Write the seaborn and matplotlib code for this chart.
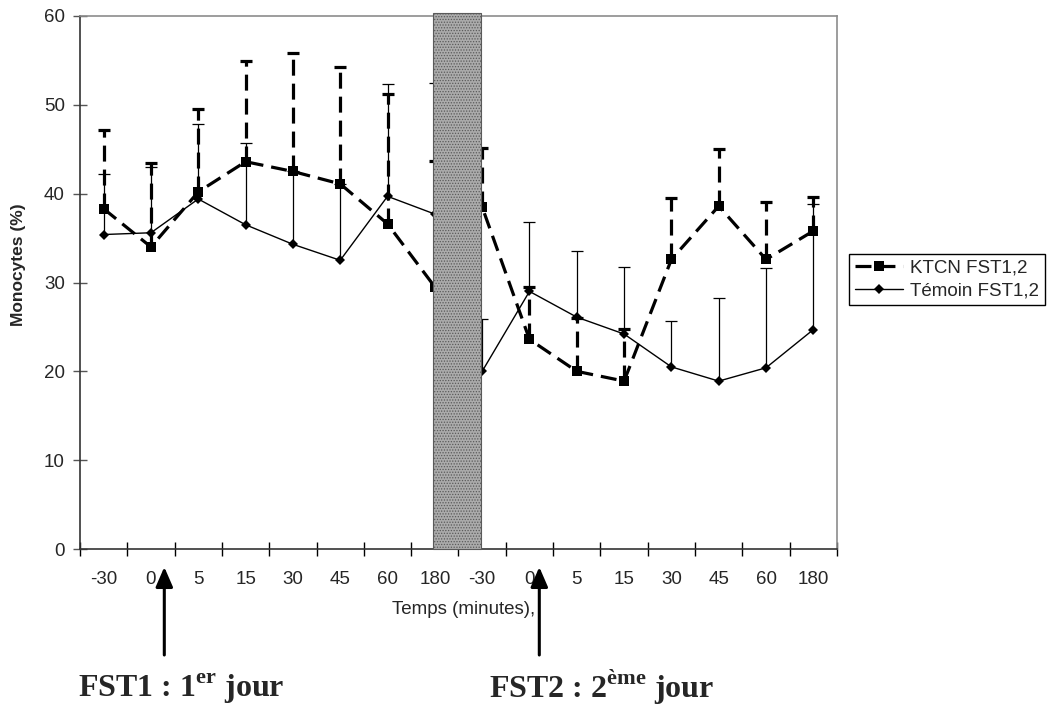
import numpy as np
import pandas as pd
import seaborn as sns
import matplotlib.pyplot as plt
from matplotlib.patches import Rectangle
from matplotlib.lines import Line2D

# time points of the two test days (FST1 then FST2)
labels = ['-30', '0', '5', '15', '30', '45', '60', '180',
          '-30', '0', '5', '15', '30', '45', '60', '180']
ktcn = [38.3, 34.0, 40.2, 43.6, 42.5, 41.1, 36.6, 29.5,
        38.5, 23.6, 20.0, 18.9, 32.6, 38.6, 32.6, 35.8]
ktcn_err = [8.9, 9.5, 9.3, 11.3, 13.3, 13.2, 14.6, 14.2,
            6.6, 5.9, 6.0, 5.9, 6.9, 6.4, 6.5, 3.8]
temoin = [35.4, 35.6, 39.4, 36.5, 34.3, 32.5, 39.7, 37.7,
          20.0, 29.0, 26.1, 24.2, 20.5, 18.9, 20.4, 24.7]
temoin_err = [6.8, 7.4, 8.4, 9.2, 8.2, 8.6, 12.6, 14.8,
              5.9, 7.8, 7.4, 7.5, 5.2, 9.4, 11.2, 14.1]

sns.set_style('ticks')
plt.rcParams['font.family'] = ['Liberation Sans', 'DejaVu Sans']
plt.rcParams['mathtext.fontset'] = 'custom'
plt.rcParams['mathtext.rm'] = 'Liberation Serif:bold'
plt.rcParams['mathtext.bf'] = 'Liberation Serif:bold'
plt.rcParams['hatch.linewidth'] = 0.6

pos = np.arange(len(labels))
df = pd.DataFrame({'pos': pos, 'ktcn': ktcn, 'temoin': temoin})

fig = plt.figure(figsize=(10.57, 7.04), dpi=100)
ax = fig.add_axes([80 / 1057, 1 - 549 / 704, 757 / 1057, 533 / 704])

dash = (5, 2.5)
sns.lineplot(data=df, x='pos', y='ktcn', ax=ax, color='black', lw=2.3,
             marker='s', markersize=7.5, markeredgewidth=0, sort=False,
             dashes=False, zorder=3)
ax.lines[-1].set_dashes(dash)
sns.lineplot(data=df, x='pos', y='temoin', ax=ax, color='black', lw=1,
             marker='D', markersize=5, markeredgewidth=0, sort=False, zorder=3)

# upper error bars only
eb = ax.errorbar(pos, ktcn, yerr=[np.zeros(len(pos)), ktcn_err], fmt='none',
                 ecolor='black', elinewidth=2.3, capsize=4, capthick=2.3, zorder=2)
eb[2][0].set_linestyle((0, dash))
eb[1][0].set_visible(False)
eb2 = ax.errorbar(pos, temoin, yerr=[np.zeros(len(pos)), temoin_err], fmt='none',
                  ecolor='black', elinewidth=0.9, capsize=4, capthick=0.9, zorder=2)
eb2[1][0].set_visible(False)

# grey band between the two days
ax.add_patch(Rectangle((6.96, 0), 1.01, 60.35, facecolor='#ababab',
                       edgecolor='#5a5a5a', hatch='......', lw=0.8,
                       zorder=5, clip_on=False))

ax.set_xlim(-0.5, 15.5)
ax.set_ylim(0, 60)
ax.set_yticks(range(0, 61, 10))
ax.set_xticks(pos)
ax.set_xticklabels(labels)
ax.set_xticks(np.arange(-0.5, 16, 1), minor=True)
ax.tick_params(axis='x', which='major', length=0, pad=16, labelsize=13.5)
ax.tick_params(axis='x', which='minor', direction='inout', length=10, width=1,
               color='black')
ax.tick_params(axis='y', direction='inout', length=10, width=1, color='#555555',
               pad=6, labelsize=13.5)

for side in ['top', 'right']:
    ax.spines[side].set_color('#8c8c8c')
    ax.spines[side].set_linewidth(1.2)
for side in ['left', 'bottom']:
    ax.spines[side].set_color('#333333')
    ax.spines[side].set_linewidth(1.2)

ax.set_xlabel('Temps (minutes),', fontsize=13.5)
ax.xaxis.set_label_coords((464 - 80) / 757, (549 - 601) / 533)
ax.set_ylabel('Monocytes (%)', fontsize=12.5, fontweight='bold')
ax.yaxis.set_label_coords((26 - 80) / 757, (549 - 265) / 533)

handles = [
    Line2D([], [], color='black', lw=2.3, dashes=dash, marker='s',
           markersize=7.5, markeredgewidth=0),
    Line2D([], [], color='black', lw=1, marker='D', markersize=5,
           markeredgewidth=0),
]
leg = fig.legend(handles, ['KTCN FST1,2', 'Témoin FST1,2'], loc='upper left',
                 bbox_to_anchor=(849 / 1057, 1 - 254 / 704), fontsize=13.5,
                 frameon=True, fancybox=False, edgecolor='black',
                 handlelength=2.6, handletextpad=0.35, borderpad=0.3,
                 labelspacing=0.3, borderaxespad=0)
leg.get_frame().set_linewidth(1)
leg.get_frame().set_alpha(1)

# arrows marking the two tests
for x in [164.3, 539.3]:
    ax.annotate('', xy=(x, 704 - 567), xytext=(x, 704 - 655),
                xycoords='figure pixels', textcoords='figure pixels',
                annotation_clip=False,
                arrowprops=dict(arrowstyle='-|>,head_length=0.6,head_width=0.26',
                                mutation_scale=20, color='black', lw=2.2,
                                shrinkA=0, shrinkB=0))

fig.text(78 / 1057, 1 - 697 / 704, r'FST1 : 1$^{\mathrm{er}}$ jour',
         family='Liberation Serif', fontweight='bold', fontsize=23,
         va='baseline')
fig.text(489 / 1057, 1 - 697 / 704, r'FST2 : 2$^{\mathrm{ème}}$ jour',
         family='Liberation Serif', fontweight='bold', fontsize=23,
         va='baseline')

fig.savefig('out.png', dpi=100)
